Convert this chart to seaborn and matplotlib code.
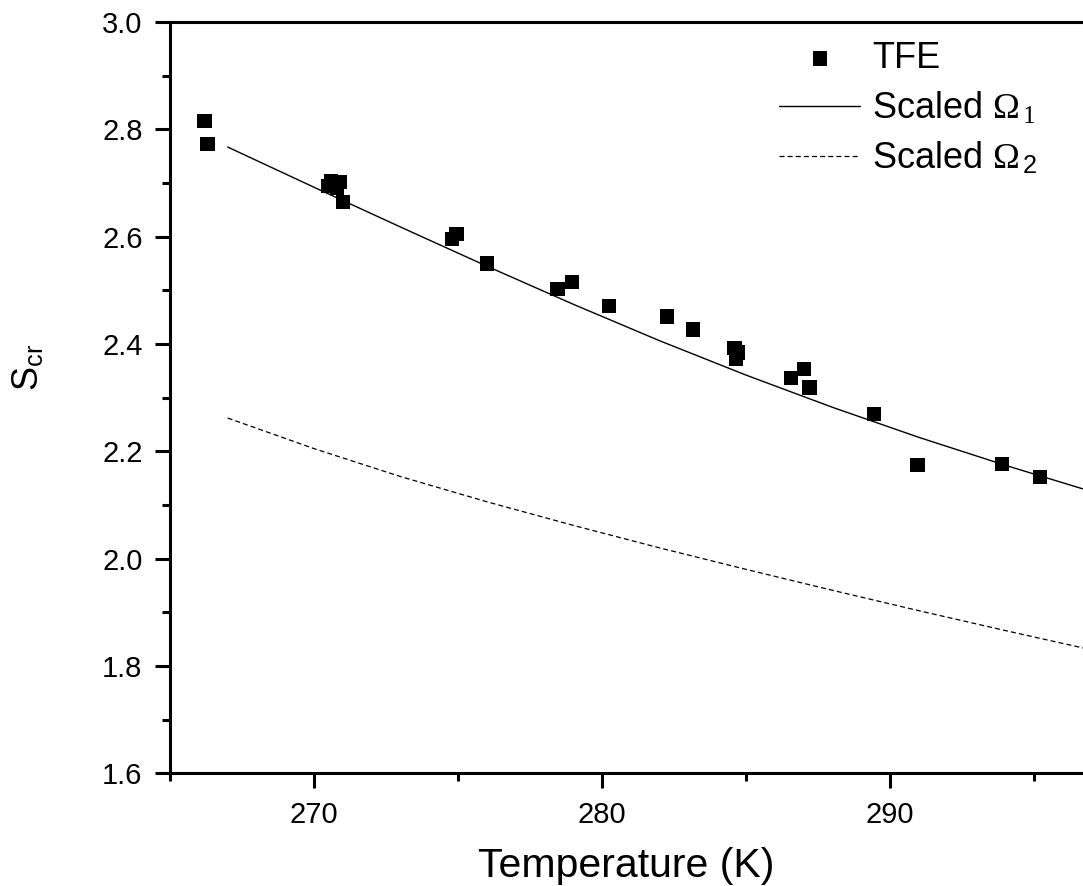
import matplotlib
matplotlib.use("Agg")
import matplotlib.pyplot as plt
from matplotlib.ticker import MultipleLocator, FormatStrFormatter
import seaborn as sns
import pandas as pd

# measured TFE points
temp_tfe = [266.2, 266.3, 270.5, 270.6, 270.8, 270.9, 271.0, 274.8, 274.95, 276.0,
            278.45, 278.95, 280.25, 282.25, 283.15, 284.6, 284.7, 284.65, 286.55,
            287.0, 287.2, 289.45, 290.95, 293.9, 295.2]
s_tfe = [2.815, 2.772, 2.695, 2.703, 2.690, 2.702, 2.665, 2.595, 2.605, 2.550,
         2.503, 2.516, 2.471, 2.451, 2.427, 2.393, 2.384, 2.373, 2.336,
         2.354, 2.319, 2.269, 2.174, 2.176, 2.152]

# scaled curves
temp_curve = [267, 270, 273, 276, 279, 282, 285, 288, 291, 294, 297]
s_omega1 = [2.767, 2.692, 2.618, 2.545, 2.474, 2.406, 2.342, 2.282, 2.226, 2.174, 2.125]
s_omega2 = [2.262, 2.205, 2.153, 2.106, 2.062, 2.020, 1.980, 1.941, 1.903, 1.866, 1.830]

sns.set_style("ticks")
plt.rcParams['font.family'] = ['Liberation Sans', 'DejaVu Sans']
plt.rcParams['mathtext.fontset'] = 'custom'
plt.rcParams['mathtext.rm'] = 'Liberation Serif'
plt.rcParams['mathtext.sf'] = 'Liberation Sans'
plt.rcParams['mathtext.it'] = 'Liberation Serif:italic'
for key in ['text.color', 'axes.labelcolor', 'xtick.color', 'ytick.color', 'axes.edgecolor']:
    plt.rcParams[key] = 'black'

fig = plt.figure(figsize=(10.83, 8.86), dpi=100)
ax = fig.add_axes([0.157, 0.1272, 0.843, 0.848])

pts = pd.DataFrame({"T": temp_tfe, "S": s_tfe})
curves = pd.DataFrame({"T": temp_curve, "o1": s_omega1, "o2": s_omega2})

sns.scatterplot(data=pts, x="T", y="S", marker="s", s=105, color="black",
                edgecolor="none", linewidth=0, ax=ax, label="TFE", zorder=3)
sns.lineplot(data=curves, x="T", y="o1", color="black", lw=1.0, ax=ax,
             label=r"Scaled $\mathrm{\Omega}_{\,\mathrm{1}}$")
sns.lineplot(data=curves, x="T", y="o2", color="black", lw=0.9, ax=ax,
             linestyle=(0, (4, 2.5)), label=r"Scaled $\mathrm{\Omega}_{\,\mathsf{2}}$")

ax.set_xlim(265, 296.7)
ax.set_ylim(1.6, 3.0)
ax.xaxis.set_major_locator(MultipleLocator(10))
ax.xaxis.set_minor_locator(MultipleLocator(5))
ax.yaxis.set_major_locator(MultipleLocator(0.2))
ax.yaxis.set_minor_locator(MultipleLocator(0.1))
ax.yaxis.set_major_formatter(FormatStrFormatter('%.1f'))

for sp in ['left', 'bottom', 'top']:
    ax.spines[sp].set_linewidth(2.2)
ax.spines['right'].set_visible(False)
ax.tick_params(which='major', length=10.8, width=2.2, labelsize=21, pad=9)
ax.tick_params(which='minor', length=5.8, width=2.2)

ax.set_xlabel("Temperature (K)", fontsize=29.5, labelpad=13)
ax.set_ylabel(r"S$_{\mathsf{cr}}$", fontsize=26)
ax.yaxis.set_label_coords(-0.135, 0.54)

ax.legend(loc='upper left', bbox_to_anchor=(779 / 1083, 1 - 41 / 886),
          bbox_transform=fig.transFigure, frameon=False, fontsize=26,
          handlelength=2.25, handletextpad=0.33, labelspacing=0.4,
          borderpad=0, borderaxespad=0)

fig.savefig("out.png", dpi=100)
